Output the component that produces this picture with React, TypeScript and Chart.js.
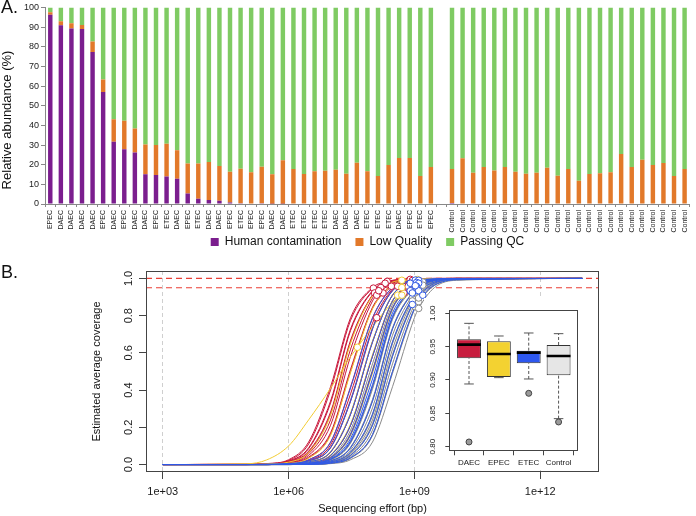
import React, { useEffect, useRef } from "react";
import { Chart, registerables } from "chart.js";

Chart.register(...registerables);

const FONT = "'Liberation Sans', Arial, Helvetica, sans-serif";
Chart.defaults.font.family = FONT;
Chart.defaults.color = "#1a1a1a";

// ---------------- Panel A data ----------------
const C = "Control";
const sampleLabels = [
  "EPEC", "DAEC", "DAEC", "DAEC", "DAEC", "EPEC", "DAEC", "EPEC", "DAEC", "DAEC",
  "EPEC", "ETEC", "DAEC", "EPEC", "ETEC", "DAEC", "DAEC", "EPEC", "ETEC", "EPEC",
  "EPEC", "DAEC", "DAEC", "ETEC", "ETEC", "ETEC", "ETEC", "DAEC", "DAEC", "DAEC",
  "ETEC", "ETEC", "ETEC", "DAEC", "EPEC", "ETEC", "EPEC", "",
  C, C, C, C, C, C, C, C, C, C, C, C, C, C, C, C, C, C, C, C, C, C, C,
];
const humanContamination = [
  96.3, 90.9, 89.3, 89.0, 77.3, 57.0, 31.6, 27.8, 26.2, 15.1,
  14.7, 14.0, 12.9, 5.4, 2.7, 2.0, 1.7, 0.8, 0.4, 0.3,
  0.4, 0.1, 0.1, 0.2, 0, 0, 0, 0, 0, 0,
  0, 0, 0, 0, 0, 0, 0, null,
  0.5, 0, 0, 0, 0, 0, 0, 0, 0, 0, 0, 0, 0, 0, 0, 0, 0, 0, 0, 0, 0, 0, 0,
];
const lowQuality = [
  1.2, 2.0, 2.6, 2.0, 5.4, 6.3, 11.5, 14.5, 12.2, 15.2,
  15.3, 16.6, 14.5, 15.2, 17.9, 19.3, 17.6, 15.6, 17.5, 15.8,
  18.5, 15.0, 22.2, 17.6, 15.2, 16.6, 16.9, 17.4, 15.4, 21.0,
  16.6, 14.2, 19.8, 23.4, 23.4, 14.2, 18.8, null,
  17.3, 23.3, 15.9, 18.8, 17.1, 18.8, 16.4, 15.4, 15.9, 18.4, 14.4, 17.8,
  11.8, 15.2, 15.6, 16.2, 25.4, 18.8, 22.5, 19.8, 20.8, 14.2, 17.8,
];
const passingQC = [
  2.5, 7.1, 8.1, 9.0, 17.3, 36.7, 56.9, 57.7, 61.6, 69.7,
  70.0, 69.4, 72.6, 79.4, 79.4, 78.7, 80.7, 83.6, 82.1, 83.9,
  81.1, 84.9, 77.7, 82.2, 84.8, 83.4, 83.1, 82.6, 84.6, 79.0,
  83.4, 85.8, 80.2, 76.6, 76.6, 85.8, 81.2, null,
  82.2, 76.7, 84.1, 81.2, 82.9, 81.2, 83.6, 84.6, 84.1, 81.6, 85.6, 82.2,
  88.2, 84.8, 84.4, 83.8, 74.6, 81.2, 77.5, 80.2, 79.2, 85.8, 82.2,
];

// ---------------- Panel B data ----------------
const effortGrid = [1e3, 1e5, 3e5, 1e6, 3e6, 1e7, 3e7, 1e8, 3e8, 1e9, 3e9, 1e10, 1e13];
const effortTicks = [1e3, 1e6, 1e9, 1e12];
const effortTickLabels = ["1e+03", "1e+06", "1e+09", "1e+12"];
const coverageTicks = [0, 0.2, 0.4, 0.6, 0.8, 1.0];
const coverageTickLabels = ["0.0", "0.2", "0.4", "0.6", "0.8", "1.0"];
const thresholds = [1.0, 0.95];

const daecCoverage = [
  [0, .001, .005, .026, .121, .418, .789, .951, .990, .998, 1, 1, 1],
  [0, .001, .004, .022, .110, .400, .775, .946, .989, .998, 1, 1, 1],
  [0, .001, .004, .019, .090, .341, .729, .934, .987, .997, 1, 1, 1],
  [0, .001, .003, .017, .085, .330, .720, .930, .986, .997, 1, 1, 1],
  [0, .001, .003, .014, .067, .271, .659, .910, .981, .996, .999, 1, 1],
  [0, .001, .003, .015, .072, .282, .668, .912, .982, .996, .999, 1, 1],
  [0, 0, .002, .010, .049, .211, .582, .879, .974, .995, .999, 1, 1],
  [0, 0, .001, .007, .036, .161, .500, .839, .964, .993, .999, 1, 1],
  [0, 0, .001, .005, .026, .121, .418, .789, .951, .990, .998, 1, 1],
  [0, 0, .001, .004, .019, .090, .341, .729, .934, .987, .997, 1, 1],
  [0, 0, .001, .003, .014, .067, .271, .659, .910, .981, .996, .999, 1],
  [0, 0, 0, .002, .010, .049, .211, .582, .879, .974, .995, .999, 1],
  [0, 0, 0, .001, .007, .036, .161, .500, .839, .964, .993, .999, 1],
  [0, 0, .001, .008, .040, .170, .512, .845, .966, .993, .999, 1, 1],
  [0, .001, .0025, .012, .058, .240, .620, .895, .978, .996, .999, 1, 1],
  [0, 0, .001, .0045, .022, .105, .380, .760, .943, .989, .998, 1, 1],
];
const daecObsEffort = [2.24e8, 1.05e8, 2.0e8, 7.94e8, 1.58e8, 1.12e8, 1.26e8, 2.82e8, 8.91e8, 1.26e8, 7.94e8, 7.08e8, 5.62e8, 1.78e8, 1.41e8, 3.98e8];
const daecObsCoverage = [0.984, 0.948, 0.974, 0.995, 0.951, 0.922, 0.910, 0.958, 0.989, 0.789, 0.974, 0.958, 0.922, 0.922, 0.934, 0.958];

const epecCoverage = [
  [0, .004, .025, .100, .240, .410, .580, .740, .870, .950, .985, .997, 1],
  [0, .001, .003, .013, .064, .265, .652, .906, .980, .996, .999, 1, 1],
  [0, 0, .001, .006, .034, .156, .494, .836, .963, .993, .999, 1, 1],
  [0, 0, .001, .003, .015, .070, .278, .664, .912, .981, .996, .999, 1],
  [0, 0, 0, .002, .011, .052, .218, .590, .882, .975, .995, .999, 1],
  [0, 0, 0, .001, .005, .026, .121, .418, .789, .951, .990, .998, 1],
  [0, 0, 0, .001, .006, .034, .155, .490, .833, .962, .993, .999, 1],
];
const epecObsEffort = [4.37e7, 5.01e8, 1.17e9, 5.01e8, 3.98e8, 1.05e9, 5.01e8];
const epecObsCoverage = [0.63, 0.990, 0.994, 0.951, 0.910, 0.953, 0.910];

const etecCoverage = [
  [0, 0, .001, .005, .025, .118, .412, .785, .950, .990, .998, 1, 1],
  [0, 0, .001, .004, .019, .090, .341, .729, .934, .987, .997, 1, 1],
  [0, 0, .001, .003, .014, .067, .271, .659, .910, .981, .996, .999, 1],
  [0, 0, 0, .002, .010, .049, .211, .582, .879, .974, .995, .999, 1],
  [0, 0, 0, .001, .007, .036, .161, .500, .839, .964, .993, .999, 1],
  [0, 0, 0, .001, .005, .026, .121, .418, .789, .951, .990, .998, 1],
  [0, 0, 0, .001, .005, .028, .128, .430, .797, .953, .991, .998, 1],
  [0, 0, 0, .001, .004, .019, .090, .341, .729, .934, .987, .997, 1],
  [0, 0, 0, .001, .003, .014, .067, .271, .659, .910, .981, .996, 1],
  [0, 0, 0, 0, .002, .010, .049, .211, .582, .879, .974, .995, 1],
  [0, 0, 0, 0, .001, .007, .036, .161, .500, .839, .964, .993, 1],
  [0, 0, 0, .001, .006, .031, .140, .460, .815, .958, .992, .999, 1],
];
const etecObsEffort = [1.05e9, 1.26e9, 7.94e8, 1.12e9, 1.26e9, 7.94e8, 1.12e9, 8.91e8, 1.26e9, 8.91e8, 1.58e9, 1.05e9];
const etecObsCoverage = [0.991, 0.990, 0.974, 0.978, 0.974, 0.934, 0.958, 0.922, 0.934, 0.860, 0.910, 0.961];

const controlCoverage = [
  [0, 0, .001, .004, .020, .093, .348, .735, .936, .987, .997, 1, 1],
  [0, 0, .001, .003, .014, .067, .271, .659, .910, .981, .996, .999, 1],
  [0, 0, 0, .002, .010, .049, .211, .582, .879, .974, .995, .999, 1],
  [0, 0, 0, .001, .007, .036, .161, .500, .839, .964, .993, .999, 1],
  [0, 0, 0, .001, .008, .038, .168, .510, .845, .966, .993, .999, 1],
  [0, 0, 0, .001, .005, .026, .121, .418, .789, .951, .990, .998, 1],
  [0, 0, 0, .001, .005, .024, .115, .405, .780, .948, .989, .998, 1],
  [0, 0, 0, .001, .004, .019, .090, .341, .729, .934, .987, .997, 1],
  [0, 0, 0, .001, .004, .020, .094, .350, .735, .936, .987, .997, 1],
  [0, 0, 0, .001, .003, .014, .067, .271, .659, .910, .981, .996, 1],
  [0, 0, 0, .001, .003, .013, .063, .262, .650, .906, .980, .996, 1],
  [0, 0, 0, 0, .002, .010, .049, .211, .582, .879, .974, .995, 1],
  [0, 0, 0, 0, .002, .011, .052, .220, .592, .884, .975, .995, 1],
  [0, 0, 0, 0, .001, .007, .036, .161, .500, .839, .964, .993, 1],
  [0, 0, 0, 0, .001, .007, .034, .155, .490, .833, .962, .993, 1],
  [0, 0, 0, 0, .001, .005, .026, .121, .418, .789, .951, .990, 1],
  [0, 0, 0, .001, .0035, .016, .078, .305, .695, .923, .984, .997, 1],
  [0, 0, 0, .002, .008, .042, .185, .541, .860, .969, .994, .999, 1],
  [0, 0, 0, .001, .0025, .012, .058, .240, .620, .895, .978, .996, 1],
  [0, 0, 0, 0, .0015, .008, .042, .185, .541, .860, .969, .994, 1],
];
const controlObsEffort = [1.05e9, 8.91e8, 1.26e9, 8.91e8, 1.58e9, 1.05e9, 1.26e9, 8.91e8, 1.58e9, 8.91e8, 1.26e9, 1.05e9, 1.41e9, 1.05e9, 1.26e9, 1.26e9, 1.12e9, 1.12e9, 8.91e8, 1.26e9];
const controlObsCoverage = [0.988, 0.978, 0.981, 0.958, 0.981, 0.953, 0.962, 0.922, 0.964, 0.895, 0.932, 0.886, 0.922, 0.848, 0.875, 0.839, 0.934, 0.974, 0.879, 0.895];

// ---------------- Inset boxplot data ----------------
const boxGroups = ["DAEC", "EPEC", "ETEC", "Control"];
const boxWhiskerLow = [0.894, 0.9035, 0.9015, 0.842];
const boxQ1 = [0.9325, 0.9045, 0.925, 0.907];
const boxMedian = [0.953, 0.939, 0.941, 0.936];
const boxQ3 = [0.961, 0.958, 0.944, 0.9525];
const boxWhiskerHigh = [0.985, 0.966, 0.9705, 0.9695];
const outlierGroup = [1, 3, 4];
const outlierValue = [0.807, 0.880, 0.837];
const insetTicks = [0.8, 0.85, 0.9, 0.95, 1.0];
const insetTickLabels = ["0.80", "0.85", "0.90", "0.95", "1.00"];

// ---------------- Styles ----------------
const PURPLE = "#7b1e8e";
const ORANGE = "#e2792a";
const GREEN = "#7fcb63";
const RED = "#c8173a";
const YELLOW = "#f2cc33";
const BLUE = "#2f58e6";
const GRAY = "#8a8a8a";
const BOX_COLORS = ["#c81d3e", "#f3d231", "#2d57ef", "#e6e6e6"];

const framePlugin = {
  id: "frame",
  afterDraw(chart: any) {
    const { ctx, chartArea: a } = chart;
    ctx.save();
    ctx.strokeStyle = "#444";
    ctx.lineWidth = 1;
    const l = Math.round(a.left) + 0.5;
    const t = Math.round(a.top) + 0.5;
    const r = Math.round(a.right) - 0.5;
    const b = Math.round(a.bottom) - 0.5;
    ctx.strokeRect(l, t, r - l, b - t);
    ctx.restore();
  },
};

function rotatedYLabels(values: number[], labels: string[], gap: number, size: number) {
  return {
    id: "rotY",
    afterDraw(chart: any) {
      const { ctx, chartArea } = chart;
      const ys = chart.scales.y;
      ctx.save();
      ctx.font = `${size}px ${FONT}`;
      ctx.fillStyle = "#1a1a1a";
      ctx.textAlign = "center";
      ctx.textBaseline = "middle";
      values.forEach((v, i) => {
        const py = ys.getPixelForValue(v);
        ctx.save();
        ctx.translate(chartArea.left - gap, py);
        ctx.rotate(-Math.PI / 2);
        ctx.fillText(labels[i], 0, 0);
        ctx.restore();
      });
      ctx.restore();
    },
  };
}

const whiteBg = {
  id: "whiteBg",
  beforeDraw(chart: any) {
    const { ctx, width, height } = chart;
    ctx.save();
    ctx.fillStyle = "#fff";
    ctx.fillRect(0, 0, width, height);
    ctx.restore();
  },
};

export default function App() {
  const aRef = useRef<HTMLCanvasElement>(null);
  const bRef = useRef<HTMLCanvasElement>(null);
  const cRef = useRef<HTMLCanvasElement>(null);

  useEffect(() => {
    const barCommon = { barPercentage: 0.42, categoryPercentage: 1 };
    const chartA = new Chart(aRef.current as HTMLCanvasElement, {
      type: "bar",
      data: {
        labels: sampleLabels,
        datasets: [
          { label: "Human contamination", data: humanContamination, backgroundColor: PURPLE, ...barCommon },
          { label: "Low Quality", data: lowQuality, backgroundColor: ORANGE, ...barCommon },
          { label: "Passing QC", data: passingQC, backgroundColor: GREEN, ...barCommon },
        ],
      } as any,
      options: {
        responsive: false,
        animation: false,
        events: [],
        layout: { padding: { top: 2, right: 1, left: 0, bottom: 0 } },
        plugins: {
          legend: {
            position: "bottom",
            fullSize: false,
            labels: { boxWidth: 8, boxHeight: 8, padding: 14, font: { size: 12 }, color: "#111" },
          },
          tooltip: { enabled: false },
        },
        scales: {
          x: {
            stacked: true,
            ticks: { autoSkip: false, maxRotation: 90, minRotation: 90, font: { size: 7 }, color: "#222", padding: 3 },
            grid: { display: true, drawOnChartArea: false, drawTicks: true, tickLength: 3, color: "#888" },
            border: { display: true, color: "#888" },
            afterFit: (s: any) => {
              s.height = 18;
              s._computeLabelArea = () => undefined;
            },
          },
          y: {
            stacked: true,
            min: 0,
            max: 100,
            ticks: { stepSize: 10, font: { size: 9 }, color: "#222", padding: 2 },
            grid: { drawOnChartArea: false, drawTicks: true, tickLength: 4, color: "#888" },
            border: { display: true, color: "#888" },
            afterFit: (s: any) => { s.width = 45; },
          },
        },
      } as any,
    });

    const groups = [
      { rows: etecCoverage, obsE: etecObsEffort, obsC: etecObsCoverage, color: BLUE, order: 1 },
      { rows: epecCoverage, obsE: epecObsEffort, obsC: epecObsCoverage, color: YELLOW, order: 2 },
      { rows: daecCoverage, obsE: daecObsEffort, obsC: daecObsCoverage, color: RED, order: 3 },
      { rows: controlCoverage, obsE: controlObsEffort, obsC: controlObsCoverage, color: GRAY, order: 4 },
    ];
    const curveSets: any[] = [];
    groups.forEach((g) => {
      g.rows.forEach((row, i) => {
        const pts = effortGrid.map((x, j) => ({ x, y: row[j] }));
        pts.push({ x: g.obsE[i], y: g.obsC[i] });
        pts.sort((p, q) => p.x - q.x);
        curveSets.push({
          type: "line",
          data: pts,
          borderColor: g.color,
          borderWidth: 1,
          pointRadius: 0,
          cubicInterpolationMode: "monotone",
          fill: false,
          order: g.order,
        });
      });
    });
    const markerSets = groups.map((g) => ({
      type: "scatter",
      data: g.obsE.map((x, i) => ({ x, y: g.obsC[i] })),
      pointRadius: 3.3,
      pointBackgroundColor: "#fff",
      pointBorderColor: g.color,
      pointBorderWidth: 1,
      showLine: false,
      order: -1,
    }));
    const X_MIN = Math.pow(10, 2.6);
    const X_MAX = Math.pow(10, 13.4);
    const thresholdSets = thresholds.map((t) => ({
      type: "line",
      data: [{ x: X_MIN, y: t }, { x: X_MAX, y: t }],
      borderColor: "#ea3f36",
      borderWidth: 1.2,
      borderDash: [6, 4],
      pointRadius: 0,
      order: 10,
    }));

    const chartB = new Chart(bRef.current as HTMLCanvasElement, {
      type: "line",
      data: { datasets: [...markerSets, ...curveSets, ...thresholdSets] } as any,
      options: {
        responsive: false,
        animation: false,
        events: [],
        layout: { padding: { left: 90, top: 21, right: 97, bottom: 0 } },
        plugins: { legend: { display: false }, tooltip: { enabled: false } },
        scales: {
          x: {
            type: "logarithmic",
            min: X_MIN,
            max: X_MAX,
            afterBuildTicks: (s: any) => { s.ticks = effortTicks.map((v) => ({ value: v })); },
            ticks: {
              callback: (_v: any, i: number) => effortTickLabels[i],
              font: { size: 11 },
              color: "#1a1a1a",
              padding: 6,
              maxRotation: 0,
              autoSkip: false,
            },
            grid: { color: "#cfcfcf", lineWidth: 1, drawTicks: true, tickLength: 7, tickColor: "#444" },
            border: { display: false, dash: [4, 3] },
            title: { display: true, text: "Sequencing effort (bp)", font: { size: 11 }, color: "#111", padding: 0 },
            afterFit: (s: any) => { s.height = 44; },
          },
          y: {
            min: -0.04,
            max: 1.04,
            afterBuildTicks: (s: any) => { s.ticks = coverageTicks.map((v) => ({ value: v })); },
            ticks: { display: false },
            grid: { drawOnChartArea: false, drawTicks: true, tickLength: 7, tickColor: "#444" },
            border: { display: false },
            title: { display: true, text: "Estimated average coverage", font: { size: 11 }, color: "#111", padding: 0 },
            afterFit: (s: any) => { s.width = 56; },
          },
        },
      } as any,
      plugins: [framePlugin, rotatedYLabels(coverageTicks, coverageTickLabels, 17.4, 11)],
    });

    const medianPts: any[] = [];
    const whiskerPts: any[] = [];
    const capPts: any[] = [];
    boxGroups.forEach((_, i) => {
      const x = i + 1;
      medianPts.push({ x: x - 0.4, y: boxMedian[i] }, { x: x + 0.4, y: boxMedian[i] }, { x: x + 0.5, y: null });
      whiskerPts.push(
        { x, y: boxQ3[i] }, { x, y: boxWhiskerHigh[i] }, { x: x + 0.1, y: null },
        { x, y: boxWhiskerLow[i] }, { x, y: boxQ1[i] }, { x: x + 0.2, y: null }
      );
      capPts.push(
        { x: x - 0.16, y: boxWhiskerHigh[i] }, { x: x + 0.16, y: boxWhiskerHigh[i] }, { x: x + 0.3, y: null },
        { x: x - 0.16, y: boxWhiskerLow[i] }, { x: x + 0.16, y: boxWhiskerLow[i] }, { x: x + 0.4, y: null }
      );
    });

    const chartC = new Chart(cRef.current as HTMLCanvasElement, {
      type: "bar",
      data: {
        datasets: [
          {
            type: "bar",
            data: boxGroups.map((_, i) => ({ x: i + 1, y: [boxQ1[i], boxQ3[i]] })),
            backgroundColor: BOX_COLORS,
            borderColor: "#333",
            borderWidth: 1,
            borderSkipped: false,
            barPercentage: 0.8,
            categoryPercentage: 1,
            order: 2,
          },
          { type: "line", data: medianPts, borderColor: "#000", borderWidth: 2.6, pointRadius: 0, spanGaps: false, order: 0 },
          { type: "line", data: whiskerPts, borderColor: "#555", borderWidth: 1, borderDash: [3, 2], pointRadius: 0, spanGaps: false, order: 3 },
          { type: "line", data: capPts, borderColor: "#555", borderWidth: 1, pointRadius: 0, spanGaps: false, order: 3 },
          {
            type: "scatter",
            data: outlierGroup.map((g, i) => ({ x: g, y: outlierValue[i] })),
            pointRadius: 3,
            pointBackgroundColor: "#9a9a9a",
            pointBorderColor: "#444",
            pointBorderWidth: 1,
            order: 1,
          },
        ],
      } as any,
      options: {
        responsive: false,
        animation: false,
        events: [],
        layout: { padding: { left: 0, top: 12, right: 15.7, bottom: 0 } },
        plugins: { legend: { display: false }, tooltip: { enabled: false } },
        scales: {
          x: {
            type: "linear",
            min: 0.34,
            max: 4.66,
            offset: false,
            afterBuildTicks: (s: any) => { s.ticks = boxGroups.map((_, i) => ({ value: i + 1 })); },
            ticks: { callback: (_v: any, i: number) => boxGroups[i], font: { size: 8 }, color: "#1a1a1a", padding: 3, maxRotation: 0, autoSkip: false },
            grid: { drawOnChartArea: false, drawTicks: true, tickLength: 4, tickColor: "#444" },
            border: { display: false },
            afterFit: (s: any) => { s.height = 18.7; },
          },
          y: {
            min: 0.793,
            max: 1.005,
            afterBuildTicks: (s: any) => { s.ticks = insetTicks.map((v) => ({ value: v })); },
            ticks: { display: false },
            grid: { drawOnChartArea: false, drawTicks: true, tickLength: 4, tickColor: "#444" },
            border: { display: false },
            afterFit: (s: any) => { s.width = 25.3; },
          },
        },
      } as any,
      plugins: [whiteBg, framePlugin, rotatedYLabels(insetTicks, insetTickLabels, 16.8, 8)],
    });

    return () => {
      chartA.destroy();
      chartB.destroy();
      chartC.destroy();
    };
  }, []);

  return (
    <div style={{ position: "absolute", left: 0, top: 0, width: 696, height: 516, background: "#fff", fontFamily: FONT, overflow: "hidden" }}>
      <canvas ref={aRef} width={696} height={258} style={{ position: "absolute", left: 0, top: 0 }} />
      <canvas ref={bRef} width={696} height={266} style={{ position: "absolute", left: 0, top: 250 }} />
      <canvas ref={cRef} width={170} height={172} style={{ position: "absolute", left: 424, top: 298 }} />
      <div
        style={{
          position: "absolute",
          left: 7 - 100,
          top: 120 - 8,
          width: 200,
          height: 16,
          lineHeight: "16px",
          textAlign: "center",
          fontSize: 13,
          color: "#111",
          transform: "rotate(-90deg)",
          transformOrigin: "50% 50%",
          whiteSpace: "nowrap",
        }}
      >
        Relative abundance (%)
      </div>
      <div style={{ position: "absolute", left: 1, top: -3, fontSize: 18, color: "#111" }}>A.</div>
      <div style={{ position: "absolute", left: 1, top: 262, fontSize: 18, color: "#111" }}>B.</div>
    </div>
  );
}
